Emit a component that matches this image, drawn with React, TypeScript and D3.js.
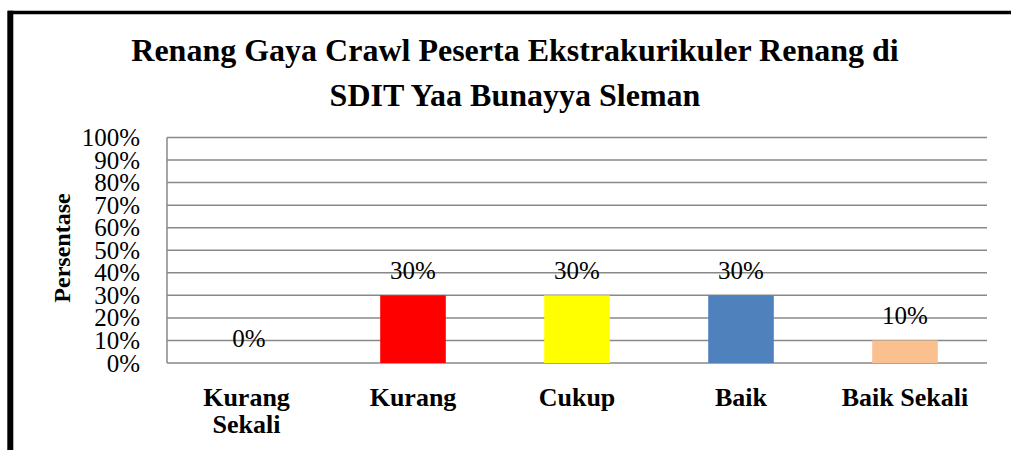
import React from "react";
import * as d3 from "d3";

const categories: string[][] = [["Kurang", "Sekali"], ["Kurang"], ["Cukup"], ["Baik"], ["Baik Sekali"]];
const values: number[] = [0, 0.3, 0.3, 0.3, 0.1];
const colors: string[] = ["#4F81BD", "#FF0000", "#FFFF00", "#4F81BD", "#FAC090"];
const yTicks: number[] = [0, 0.1, 0.2, 0.3, 0.4, 0.5, 0.6, 0.7, 0.8, 0.9, 1.0];
const titleLines: string[] = ["Renang Gaya Crawl Peserta Ekstrakurikuler Renang di", "SDIT Yaa Bunayya Sleman"];
const yTitle = "Persentase";

const W = 1011;
const H = 450;
const left = 167;
const right = 987;
const top = 137.5;
const bottom = 363;
const font = "Liberation Serif, DejaVu Serif, serif";

export default function App() {
  const x = d3.scaleBand<number>().domain(d3.range(categories.length)).range([left, right]).paddingInner(0.6).paddingOuter(0.3);
  const y = d3.scaleLinear().domain([0, 1]).range([bottom, top]);
  const fmt = d3.format(".0%");
  return (
    <svg width={W} height={H} style={{ position: "absolute", left: 0, top: 0, background: "#fff", fontFamily: font }}>
      <rect x={0} y={0} width={W} height={H} fill="#fff" />
      <line x1={8} y1={12.5} x2={W} y2={12.5} stroke="#000" strokeWidth={3.5} />
      <line x1={10.3} y1={10.8} x2={10.3} y2={H} stroke="#000" strokeWidth={6} />
      {titleLines.map((t, i) => (
        <text key={i} x={515} y={61 + i * 45} textAnchor="middle" style={{ fontFamily: font }} fontWeight="bold" fontSize={32}>{t}</text>
      ))}
      {yTicks.map((t) => (
        <g key={t}>
          <line x1={left} x2={right} y1={y(t)} y2={y(t)} stroke="#888" strokeWidth={1.5} />
          <text x={140} y={y(t) + 8.5} textAnchor="end" style={{ fontFamily: font }} fontSize={25}>{fmt(t)}</text>
        </g>
      ))}
      <line x1={left} x2={left} y1={top} y2={bottom} stroke="#888" strokeWidth={1.5} />
      {values.map((v, i) => (
        <g key={i}>
          {v > 0 && <rect x={x(i)} y={y(v)} width={x.bandwidth()} height={bottom - y(v)} fill={colors[i]} />}
          <text x={(x(i) as number) + x.bandwidth() / 2} y={y(v) - 16.5} textAnchor="middle" style={{ fontFamily: font }} fontSize={25}>{fmt(v)}</text>
          {categories[i].map((c, j) => (
            <text key={j} x={(x(i) as number) + x.bandwidth() / 2 - (categories[i].length > 1 ? 2.5 : 0)} y={406 + j * 27} textAnchor="middle" style={{ fontFamily: font }} fontWeight="bold" fontSize={26}>{c}</text>
          ))}
        </g>
      ))}
      <text transform={`translate(70,248) rotate(-90)`} textAnchor="middle" style={{ fontFamily: font }} fontWeight="bold" fontSize={24}>{yTitle}</text>
    </svg>
  );
}
